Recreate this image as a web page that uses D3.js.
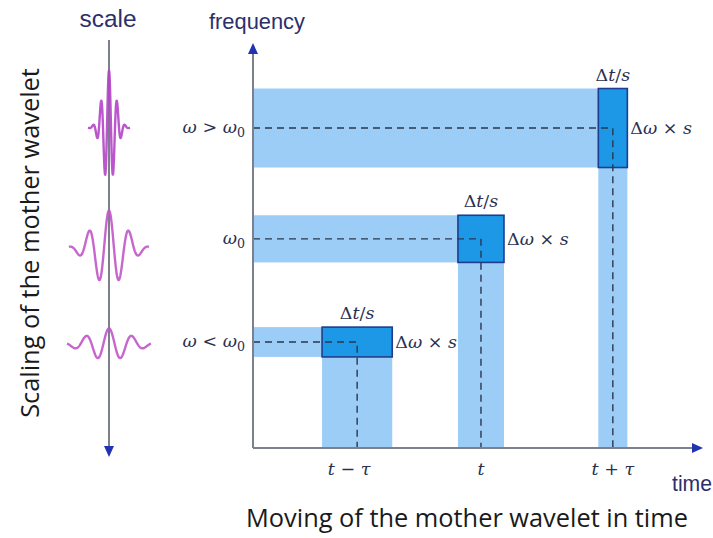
<!DOCTYPE html>
<html><head><meta charset="utf-8">
<script src="https://cdn.jsdelivr.net/npm/d3@7"></script>
<style>body{margin:0;background:#fff}svg{display:block}</style>
</head><body><svg id="c" width="713" height="538"></svg>
<script>
// ---- data ----
const timeLabels   = ["t − τ", "t", "t + τ"];
const timeCenters  = [2.33, 5.10, 8.05];   // centre of each window (time units)
const timeWidths   = [1.57, 1.03, 0.65];   // Δt/s
const freqLabels   = ["ω < ω0", "ω0", "ω > ω0"];
const freqCenters  = [2.63, 5.19, 7.94];   // centre frequency
const freqHeights  = [0.74, 1.17, 1.96];   // Δω×s
// mother wavelet at three scales (illustration glyph parameters)
const waveScales   = [0.4, 1.0, 1.15];     // relative period
const waveAmps     = [57, 38, 16];
const waveLevels   = [7.9, 5.0, 2.7];      // position along scale axis (0..10)

const svg = d3.select("#c");
const x = d3.scaleLinear().domain([0, 10]).range([253, 700]);
const y = d3.scaleLinear().domain([0, 10]).range([448, 45]);
const ys = d3.scaleLinear().domain([0, 10]).range([457, 40]);

const bandC = "#9bcdf6", boxC = "#1c98e6", boxS = "#1f3d8c";
const navy = "#2b2f6b", axisC = "#7c7f8c", arrowC = "#2233b0";
const mathC = "#2a3050";

const idx = d3.range(timeCenters.length);
// light bands
idx.forEach(i => {
  const x0 = x(timeCenters[i] - timeWidths[i] / 2), x1 = x(timeCenters[i] + timeWidths[i] / 2);
  const y0 = y(freqCenters[i] + freqHeights[i] / 2), y1 = y(freqCenters[i] - freqHeights[i] / 2);
  svg.append("rect").attr("x", x(0)).attr("y", y0).attr("width", x0 - x(0)).attr("height", y1 - y0).attr("fill", bandC);
  svg.append("rect").attr("x", x0).attr("y", y1).attr("width", x1 - x0).attr("height", y(0) - y1).attr("fill", bandC);
});
// boxes
idx.forEach(i => {
  const x0 = x(timeCenters[i] - timeWidths[i] / 2), x1 = x(timeCenters[i] + timeWidths[i] / 2);
  const y0 = y(freqCenters[i] + freqHeights[i] / 2), y1 = y(freqCenters[i] - freqHeights[i] / 2);
  svg.append("rect").attr("x", x0).attr("y", y0).attr("width", x1 - x0).attr("height", y1 - y0)
    .attr("fill", boxC).attr("stroke", boxS).attr("stroke-width", 1.6);
});
// dashed guides
idx.forEach(i => {
  const cx = x(timeCenters[i]), cy = y(freqCenters[i]);
  svg.append("path").attr("d", `M${x(0)},${cy}H${cx}V${y(0)}`)
    .attr("fill", "none").attr("stroke", "#2c3650").attr("stroke-width", 1.4).attr("stroke-dasharray", "7,5");
});

// axes
function arrowHead(px, py, dir) {
  const L = 11, W = 5;
  let pts;
  if (dir === "up") pts = [[px, py], [px - W, py + L], [px + W, py + L]];
  if (dir === "down") pts = [[px, py], [px - W, py - L], [px + W, py - L]];
  if (dir === "right") pts = [[px, py], [px - L, py - W], [px - L, py + W]];
  svg.append("polygon").attr("points", pts.map(p => p.join(",")).join(" ")).attr("fill", arrowC);
}
svg.append("line").attr("x1", x(0)).attr("y1", y(0)).attr("x2", x(0)).attr("y2", 52).attr("stroke", axisC).attr("stroke-width", 2);
svg.append("line").attr("x1", x(0)).attr("y1", y(0)).attr("x2", 692).attr("y2", y(0)).attr("stroke", axisC).attr("stroke-width", 2);
arrowHead(x(0), 43, "up");
arrowHead(703, y(0), "right");

// scale axis
const sx = 109;
svg.append("line").attr("x1", sx).attr("y1", ys(10)).attr("x2", sx).attr("y2", 448).attr("stroke", axisC).attr("stroke-width", 2);
arrowHead(sx, 457, "down");

// wavelets (Morlet shape)
waveScales.forEach((s, i) => {
  const P = 20 * s, sig = 16 * s * (i === 2 ? 1.1 : 1), L = Math.max(21, 40 * Math.min(s, 1.05));
  const cy = ys(waveLevels[i]);
  const pts = d3.range(-L, L + 0.01, 0.25).map(t => [sx + t, cy - waveAmps[i] * Math.cos(2 * Math.PI * t / P) * Math.exp(-t * t / (2 * sig * sig))]);
  svg.append("path").attr("d", d3.line().curve(d3.curveLinear)(pts))
    .attr("fill", "none").attr("stroke", i === 0 ? "#b444c6" : "#c157c9").attr("stroke-width", 2.4)
    .attr("stroke-linejoin", "round").attr("stroke-opacity", 0.9);
});

// ---- text helpers ----
function fit(sel, target) {
  const w = sel.node().getComputedTextLength();
  const fs = parseFloat(sel.attr("font-size"));
  sel.attr("font-size", fs * target / w);
  return sel;
}
function mathText(g, str, px, py, anchor, fs) {
  const t = g.append("text").attr("x", px).attr("y", py).attr("text-anchor", anchor)
    .attr("font-family", "DejaVu Serif, serif").attr("font-size", fs).attr("fill", mathC);
  for (const ch of str) {
    const ts = t.append("tspan").text(ch);
    if (ch === "0") ts.attr("font-size", fs * 0.72).attr("dy", fs * 0.25);
    else if (/[a-zωτ]/.test(ch)) ts.attr("font-style", "italic");
  }
  return t;
}
const mfs = 17.5;
// frequency labels
idx.forEach(i => mathText(svg, freqLabels[i], 245, y(freqCenters[i]) + 5, "end", mfs));
// time tick labels
idx.forEach(i => mathText(svg, timeLabels[i], x(timeCenters[i]) + (i === 0 ? -8 : 0), 475, "middle", mfs));
// Δt/s and Δω×s
idx.forEach(i => {
  const cx = x(timeCenters[i]);
  const top = y(freqCenters[i] + freqHeights[i] / 2);
  const right = x(timeCenters[i] + timeWidths[i] / 2);
  mathText(svg, "Δt/s", cx, top - 8, "middle", mfs);
  mathText(svg, "Δω × s", right + 3, y(freqCenters[i]) + 6, "start", mfs);
});

// axis titles
fit(svg.append("text").text("frequency").attr("x", 257).attr("y", 29).attr("text-anchor", "middle")
  .attr("font-family", "Liberation Sans, Arial, sans-serif").attr("font-size", 19).attr("fill", navy), 96);
fit(svg.append("text").text("time").attr("x", 692).attr("y", 491).attr("text-anchor", "middle")
  .attr("font-family", "Liberation Sans, Arial, sans-serif").attr("font-size", 19).attr("fill", navy), 40);
fit(svg.append("text").text("scale").attr("x", 108).attr("y", 27).attr("text-anchor", "middle")
  .attr("font-family", "Liberation Sans, Arial, sans-serif").attr("font-size", 20).attr("fill", navy), 57);
fit(svg.append("text").text("Moving of the mother wavelet in time").attr("x", 467).attr("y", 527).attr("text-anchor", "middle")
  .attr("font-family", "Open Sans, Noto Sans, sans-serif").attr("font-size", 20).attr("fill", "#1a1a1a"), 442);
fit(svg.append("text").text("Scaling of the mother wavelet").attr("transform", "translate(39,243) rotate(-90)").attr("text-anchor", "middle")
  .attr("font-family", "Open Sans, Noto Sans, sans-serif").attr("font-size", 20).attr("fill", "#1a1a1a"), 350);
</script></body></html>
